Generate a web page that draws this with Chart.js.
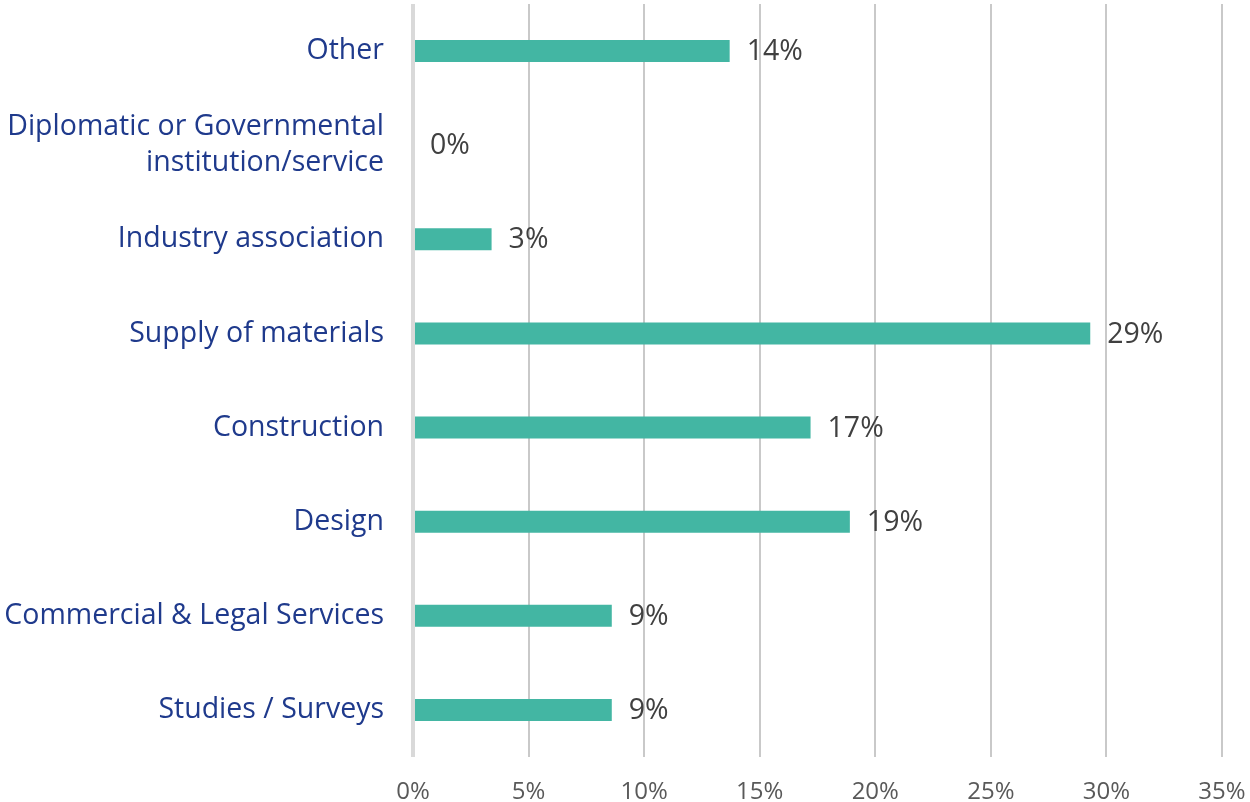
<!DOCTYPE html>
<html>
<head>
<meta charset="utf-8">
<script src="https://cdn.jsdelivr.net/npm/chart.js@4"></script>
<style>
    body { margin: 0; background: #ffffff; }
    #sectorChart { display: block; }
</style>
</head>
<body>
<canvas id="sectorChart" width="1250" height="802"></canvas>
<script>
// categories, top to bottom
const sectors = [
    'Other',
    ['Diplomatic or Governmental', 'institution/service'],
    'Industry association',
    'Supply of materials',
    'Construction',
    'Design',
    'Commercial & Legal Services',
    'Studies / Surveys'
];
const shares = [13.7, 0, 3.4, 29.3, 17.2, 18.9, 8.6, 8.6];
const xTicks = [0, 5, 10, 15, 20, 25, 30, 35];

// draws the "14%" labels right of each bar
const barLabels = {
    id: 'barLabels',
    afterDatasetsDraw: function (chart) {
        var ctx = chart.ctx;
        var meta = chart.getDatasetMeta(0);
        ctx.save();
        ctx.font = '28.5px "Open Sans", sans-serif';
        ctx.fillStyle = '#404040';
        ctx.textAlign = 'left';
        ctx.textBaseline = 'middle';
        meta.data.forEach(function (bar, i) {
            ctx.fillText(Math.round(shares[i]) + '%', bar.x + 17, bar.y + 1);
        });
        ctx.restore();
    }
};

document.addEventListener('DOMContentLoaded', function () {
    const chartElement = document.getElementById('sectorChart');

    new Chart(chartElement, {
        type: 'bar',
        data: {
            labels: sectors,
            datasets: [{
                data: shares,
                backgroundColor: '#43b6a3',
                barPercentage: 1,
                categoryPercentage: 0.234
            }]
        },
        options: {
            indexAxis: 'y',
            responsive: false,
            animation: false,
            layout: { padding: { top: 4, right: 28, left: 0, bottom: 0 } },
            plugins: {
                legend: { display: false },
                tooltip: { enabled: false }
            },
            scales: {
                x: {
                    min: 0,
                    max: 35,
                    afterBuildTicks: function (axis) {
                        axis.ticks = xTicks.map(function (v) { return { value: v }; });
                    },
                    afterFit: function (axis) {
                        axis.height = 45;
                        axis.paddingLeft = 0;
                        axis.paddingRight = 0;
                    },
                    border: { display: false },
                    grid: {
                        drawTicks: false,
                        color: function (c) { return c.index === 0 ? '#d9d9d9' : '#c9c9c9'; },
                        lineWidth: function (c) { return c.index === 0 ? 4 : 2; }
                    },
                    ticks: {
                        padding: 21,
                        color: '#595959',
                        font: { family: '"Open Sans", sans-serif', size: 24 },
                        callback: function (v) { return v + '%'; }
                    }
                },
                y: {
                    afterFit: function (axis) {
                        axis.width = 413;
                        axis.paddingTop = 0;
                        axis.paddingBottom = 0;
                    },
                    border: { display: false },
                    grid: { display: false, drawTicks: false },
                    ticks: {
                        padding: 29,
                        color: '#1f3a8c',
                        font: { family: '"Open Sans", sans-serif', size: 28.5, lineHeight: 1.26 }
                    }
                }
            }
        },
        plugins: [barLabels]
    });
});
</script>
</body>
</html>
